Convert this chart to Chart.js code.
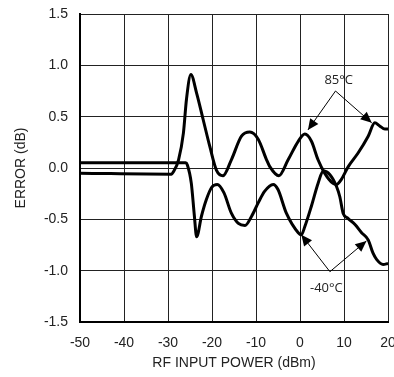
<!DOCTYPE html>
<html>
<head>
<meta charset="utf-8">
<script src="https://cdn.jsdelivr.net/npm/chart.js@4"></script>
<style>
  html, body { margin: 0; padding: 0; background: #fff; }
  #wrap { width: 394px; height: 377px; position: relative; }
</style>
</head>
<body>
<div id="wrap"><canvas id="errChart"></canvas></div>
<script>
// ---------------------------
// Data
// ---------------------------
const xTicks = [-50, -40, -30, -20, -10, 0, 10, 20];
const yTicks = [-1.5, -1.0, -0.5, 0.0, 0.5, 1.0, 1.5];

// 85°C trace
const hotX = [-50, -29.2, -28.8, -27.6, -26.5, -25.8, -24.8, -23.5, -22, -20.5, -19, -17.5, -15.6, -13.3, -11.4, -9.5, -7.6, -6.9, -4.8, -2.7, -0.4, 1.1, 2.6, 4.1, 5.6, 7.5, 8.3, 9.4, 11, 13.2, 15.5, 17, 18.1, 19.3, 20];
const hotY = [-0.05, -0.06, -0.04, 0.08, 0.34, 0.67, 0.91, 0.73, 0.47, 0.21, -0.02, -0.075, 0.08, 0.31, 0.35, 0.28, 0.08, 0.016, -0.075, 0.08, 0.26, 0.33, 0.26, 0.08, -0.05, -0.15, -0.16, -0.11, 0.016, 0.146, 0.31, 0.44, 0.41, 0.38, 0.38];

// -40°C trace
const coldX = [-50, -26, -25.6, -24.7, -24, -23.5, -22.4, -21.3, -20.1, -18.8, -17.3, -15.6, -14, -12.5, -11, -9.5, -8.1, -6.1, -5, -3.1, -0.4, 0.3, 1.1, 2.6, 4.1, 5.3, 6.8, 8.3, 9.05, 9.8, 10.9, 12.5, 14, 15.5, 16.6, 17.4, 18.9, 20];
const coldY = [0.05, 0.05, 0.03, -0.15, -0.47, -0.67, -0.47, -0.31, -0.19, -0.16, -0.24, -0.44, -0.54, -0.56, -0.47, -0.34, -0.23, -0.16, -0.21, -0.44, -0.63, -0.65, -0.57, -0.37, -0.15, -0.03, -0.065, -0.18, -0.28, -0.44, -0.49, -0.55, -0.63, -0.70, -0.83, -0.89, -0.94, -0.93];

// callouts: label position, apex, arrow tips (data units)
const hotNote = { text: "85°C", at: [8.8, 0.85], apex: [8.07, 0.75], tips: [[1.8, 0.37], [16.3, 0.44]] };
const coldNote = { text: "-40°C", at: [6.0, -1.17], apex: [6.8, -1.01], tips: [[0.3, -0.65], [15.1, -0.71]] };

function toPoints(xs, ys) {
  return xs.map((x, i) => ({ x: x, y: ys[i] }));
}

// draws the arrow callouts through the chart's own scales
const calloutPlugin = {
  id: "callouts",
  afterDatasetsDraw(chart) {
    const ctx = chart.ctx;
    const sx = chart.scales.x, sy = chart.scales.y;
    const px = p => [sx.getPixelForValue(p[0]), sy.getPixelForValue(p[1])];
    [hotNote, coldNote].forEach(n => {
      const a = px(n.apex);
      n.tips.forEach(t => {
        const b = px(t);
        ctx.save();
        ctx.strokeStyle = "#000";
        ctx.fillStyle = "#000";
        ctx.lineWidth = 1;
        ctx.beginPath();
        ctx.moveTo(a[0], a[1]);
        ctx.lineTo(b[0], b[1]);
        ctx.stroke();
        const ang = Math.atan2(b[1] - a[1], b[0] - a[0]);
        const len = 11, w = 5;
        ctx.beginPath();
        ctx.moveTo(b[0], b[1]);
        ctx.lineTo(b[0] - len * Math.cos(ang) + w * Math.sin(ang), b[1] - len * Math.sin(ang) - w * Math.cos(ang));
        ctx.lineTo(b[0] - len * Math.cos(ang) - w * Math.sin(ang), b[1] - len * Math.sin(ang) + w * Math.cos(ang));
        ctx.closePath();
        ctx.fill();
        ctx.restore();
      });
      const p = px(n.at);
      ctx.save();
      ctx.fillStyle = "#222";
      ctx.font = "13px 'Open Sans', 'Noto Sans', sans-serif";
      ctx.textAlign = "center";
      ctx.textBaseline = "middle";
      ctx.fillText(n.text, p[0], p[1]);
      ctx.restore();
    });
  }
};

const lineStyle = {
  borderColor: "#000",
  borderWidth: 3,
  pointRadius: 0,
  fill: false,
  cubicInterpolationMode: "monotone",
};

const tickFont = { family: "'Liberation Sans', Arial, sans-serif", size: 14 };

new Chart(document.getElementById("errChart"), {
  type: "line",
  data: {
    datasets: [
      { label: "85°C", data: toPoints(hotX, hotY), ...lineStyle },
      { label: "-40°C", data: toPoints(coldX, coldY), ...lineStyle },
    ],
  },
  options: {
    responsive: true,
    maintainAspectRatio: false,
    animation: false,
    layout: { padding: { top: 14, right: 6, left: 0, bottom: 0 } },
    plugins: { legend: { display: false }, tooltip: { enabled: false } },
    scales: {
      x: {
        type: "linear",
        min: -50,
        max: 20,
        afterBuildTicks: s => { s.ticks = xTicks.map(v => ({ value: v })); },
        afterFit: s => { s.height = 55; s.paddingLeft = 0; s.paddingRight = 0; },
        grid: { color: "#222", lineWidth: 1, drawTicks: false },
        border: { color: "#000", width: 2 },
        ticks: { color: "#222", font: tickFont, padding: 13, maxRotation: 0, callback: v => String(v) },
        title: { display: true, text: "RF INPUT POWER (dBm)", color: "#222", font: tickFont, padding: { top: 2, bottom: 5 } },
      },
      y: {
        min: -1.5,
        max: 1.5,
        afterBuildTicks: s => { s.ticks = yTicks.map(v => ({ value: v })); },
        afterFit: s => { s.width = 80; s.paddingTop = 0; s.paddingBottom = 0; },
        grid: { color: "#222", lineWidth: 1, drawTicks: false },
        border: { color: "#000", width: 2 },
        ticks: { color: "#222", font: tickFont, padding: 12, callback: v => v.toFixed(1) },
        title: { display: true, text: "ERROR (dB)", color: "#222", font: tickFont, padding: { top: 13, bottom: 4 } },
      },
    },
  },
  plugins: [calloutPlugin],
});
</script>
</body>
</html>
